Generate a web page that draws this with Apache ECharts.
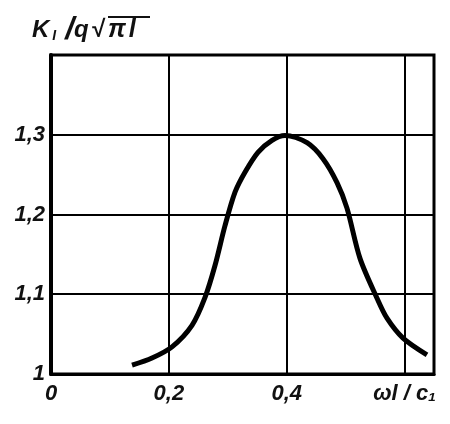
<!DOCTYPE html>
<html>
<head>
<meta charset="utf-8">
<script src="https://cdn.jsdelivr.net/npm/echarts@6/dist/echarts.min.js"></script>
<style>
  html, body { margin: 0; padding: 0; background: #fff; }
  #chart { width: 450px; height: 424px; }
</style>
</head>
<body>
<div id="chart"></div>
<script>
// curve: omega*l/c1 -> K_I/(q*sqrt(pi*l))
var xValues = [0.1375, 0.1714, 0.2054, 0.2393, 0.2614, 0.2783, 0.2953, 0.3123, 0.3292, 0.3513, 0.3751, 0.3971,
               0.4345, 0.4616, 0.4854, 0.5023, 0.5244, 0.5533, 0.5702, 0.5974, 0.6381];
var kValues = [1.011, 1.020, 1.034, 1.061, 1.096, 1.136, 1.186, 1.228, 1.253, 1.278, 1.293, 1.299,
               1.290, 1.270, 1.240, 1.208, 1.145, 1.095, 1.070, 1.045, 1.024];
var xTickLabels = ['0', '0,2', '0,4', 'ωl / c₁'];
var yTickLabels = ['1', '1,1', '1,2', '1,3', ''];

var font = 'Liberation Sans';
var myChart = echarts.init(document.getElementById('chart'));

var points = xValues.map(function (x, i) { return [x, kValues[i]]; });

var labelStyle = {
  color: '#111', fontFamily: font, fontStyle: 'italic', fontWeight: 'bold', fontSize: 22
};

function titleFont(size, pad) {
  return { fontFamily: font, fontStyle: 'italic', fontWeight: 'bold', fontSize: size, fill: '#111', padding: pad };
}

var option = {
  animation: false,
  backgroundColor: '#fff',
  grid: {
    left: 51, top: 55, right: 16, bottom: 50,
    show: true, borderColor: '#000', borderWidth: 3
  },
  xAxis: {
    type: 'value', min: 0, max: 0.65, interval: 0.2,
    axisLine: { show: true, lineStyle: { color: '#000', width: 3 } },
    axisTick: { show: false },
    splitLine: { show: true, lineStyle: { color: '#000', width: 2 } },
    axisLabel: Object.assign({
      margin: 9,
      formatter: function (v) { return xTickLabels[Math.round(v / 0.2)] || ''; }
    }, labelStyle)
  },
  yAxis: {
    type: 'value', min: 1, max: 1.4, interval: 0.1,
    axisLine: { show: true, lineStyle: { color: '#000', width: 4 } },
    axisTick: { show: false },
    splitLine: { show: true, lineStyle: { color: '#000', width: 2 } },
    axisLabel: Object.assign({
      margin: 6,
      formatter: function (v) { return yTickLabels[Math.round((v - 1) / 0.1)] || ''; }
    }, labelStyle)
  },
  graphic: [
    {
      type: 'text', left: 32, top: 14,
      style: {
        text: '{k|K}{s|I}{sl|/}{k|q}{r|√}{p|π}{l|l}',
        rich: {
          k: titleFont(24, [0, 0, 0, 0]),
          s: titleFont(14, [12, 0, 0, 3]),
          sl: titleFont(32, [0, 0, 0, 9]),
          r: titleFont(24, [0, 0, 0, 2]),
          p: titleFont(25, [0, 0, 0, 4]),
          l: titleFont(25, [0, 0, 0, 3])
        }
      }
    },
    {
      type: 'line', shape: { x1: 108, y1: 17, x2: 150, y2: 17 },
      style: { stroke: '#111', lineWidth: 2 }
    }
  ],
  series: [
    {
      type: 'line', data: points, smooth: 0.3, showSymbol: false,
      lineStyle: { color: '#000', width: 5 }
    }
  ]
};
myChart.setOption(option);
</script>
</body>
</html>
